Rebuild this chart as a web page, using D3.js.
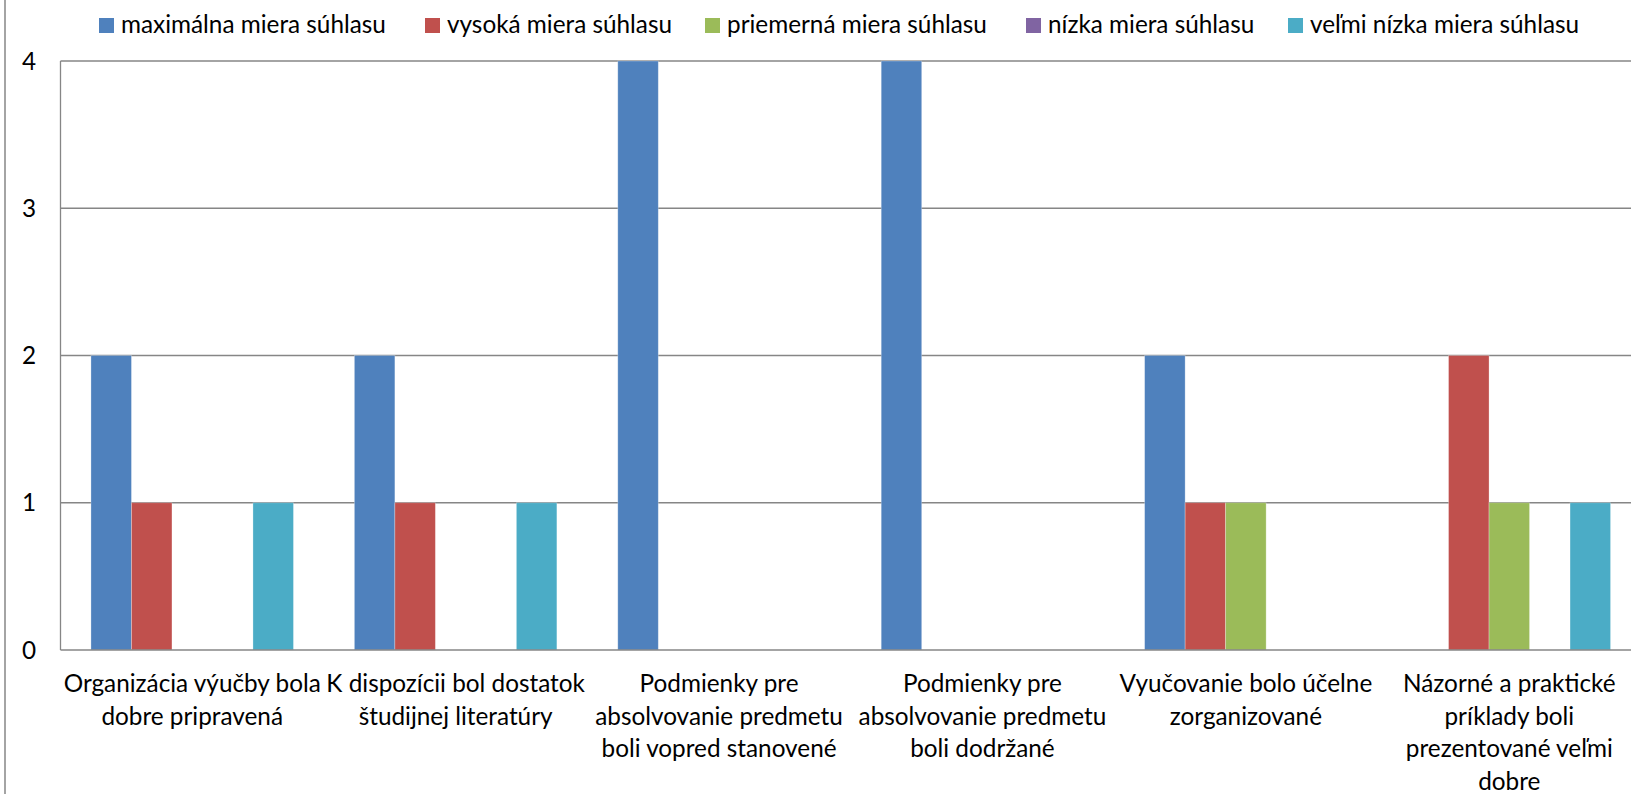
<!DOCTYPE html>
<html>
<head>
<meta charset="utf-8">
<script src="https://cdn.jsdelivr.net/npm/d3@7"></script>
<style>
  body { margin: 0; background: #fff; }
  text { font-family: Lato, "Open Sans", sans-serif; fill: #000; }
</style>
</head>
<body>
<div id="chart"></div>
<script>
// categories (line breaks as in the original)
var categories = [
    "Organizácia výučby bola\ndobre pripravená",
    "K dispozícii bol dostatok\nštudijnej literatúry",
    "Podmienky pre\nabsolvovanie predmetu\nboli vopred stanovené",
    "Podmienky pre\nabsolvovanie predmetu\nboli dodržané",
    "Vyučovanie bolo účelne\nzorganizované",
    "Názorné a praktické\npríklady boli\nprezentované veľmi\ndobre"
];
var seriesNames = ["maximálna miera súhlasu", "vysoká miera súhlasu", "priemerná miera súhlasu", "nízka miera súhlasu", "veľmi nízka miera súhlasu"];
var maximalna = [2, 2, 4, 4, 2, 0];
var vysoka    = [1, 1, 0, 0, 1, 2];
var priemerna = [0, 0, 0, 0, 1, 1];
var nizka     = [0, 0, 0, 0, 0, 0];
var velmiNizka = [1, 1, 0, 0, 0, 1];
var yTicks = [0, 1, 2, 3, 4];

var colors = ["#4F81BD", "#C0504D", "#9BBB59", "#8064A2", "#4BACC6"];
var series = [maximalna, vysoka, priemerna, nizka, velmiNizka];

var W = 1631, H = 794;
var cfg = {
    left: 60.5,
    right: 1641,      // plot area runs past the right edge of the picture
    top: 61,
    bottom: 650
};

var svg = d3.select("#chart").append("svg")
    .attr("width", W).attr("height", H);

// size the font so the first legend entry is as wide as in the original (~265px)
var probe = svg.append("text").style("font-size", "22px").text(seriesNames[0]);
var fs = 22 * 265 / probe.node().getComputedTextLength();
probe.remove();

// outer chart border (only the left side is visible)
svg.append("line")
    .attr("x1", 5).attr("x2", 5).attr("y1", 0).attr("y2", H)
    .style("stroke", "#868686").style("stroke-width", 1.5);

var x0 = d3.scaleBand().domain(d3.range(categories.length))
    .range([cfg.left, cfg.right]).paddingInner(0).paddingOuter(0);
var groupW = x0.bandwidth();
var barW = 40.5;
var gap = (groupW - barW * series.length) / 2;
var x1 = d3.scaleBand().domain(d3.range(series.length))
    .range([gap, groupW - gap]);

var y = d3.scaleLinear().domain([0, 4]).range([cfg.bottom, cfg.top]);

// gridlines
svg.append("g").selectAll("line")
    .data(yTicks.filter(function(d){ return d > 0; }))
    .enter().append("line")
    .attr("x1", cfg.left).attr("x2", W)
    .attr("y1", function(d){ return y(d); })
    .attr("y2", function(d){ return y(d); })
    .style("stroke", "#868686").style("stroke-width", 1.3);

// y axis labels
svg.append("g").selectAll("text")
    .data(yTicks)
    .enter().append("text")
    .attr("x", 36).attr("y", function(d){ return y(d); })
    .attr("dy", "0.35em")
    .attr("text-anchor", "end")
    .style("font-size", fs + "px")
    .text(function(d){ return d; });

// bars
var groups = svg.append("g").selectAll("g")
    .data(categories)
    .enter().append("g")
    .attr("transform", function(d, i){ return "translate(" + x0(i) + ",0)"; });

groups.selectAll("rect")
    .data(function(d, i){ return series.map(function(s, j){ return {s: j, v: s[i]}; }); })
    .enter().append("rect")
    .filter(function(d){ return d.v > 0; })
    .attr("x", function(d){ return x1(d.s); })
    .attr("width", x1.bandwidth())
    .attr("y", function(d){ return y(d.v); })
    .attr("height", function(d){ return y(0) - y(d.v); })
    .style("fill", function(d){ return colors[d.s]; })
    .style("stroke", "rgba(255,255,255,0.35)")
    .style("stroke-width", 0.8);

// axis lines
svg.append("line")
    .attr("x1", cfg.left).attr("x2", cfg.left).attr("y1", cfg.top).attr("y2", cfg.bottom)
    .style("stroke", "#868686").style("stroke-width", 1.3);
svg.append("line")
    .attr("x1", cfg.left).attr("x2", W).attr("y1", cfg.bottom).attr("y2", cfg.bottom)
    .style("stroke", "#868686").style("stroke-width", 1.3);

// category labels
var lab = svg.append("g").selectAll("text")
    .data(categories)
    .enter().append("text")
    .attr("text-anchor", "middle")
    .style("font-size", fs + "px");
lab.each(function(d, i){
    var t = d3.select(this);
    d.split("\n").forEach(function(line, k){
        t.append("tspan")
            .attr("x", x0(i) + groupW / 2)
            .attr("y", 692 + k * 32.5)
            .text(line);
    });
});

// legend
var legendX = [99, 425, 705, 1026, 1288];
var legend = svg.append("g").selectAll("g")
    .data(seriesNames)
    .enter().append("g")
    .attr("transform", function(d, i){ return "translate(" + legendX[i] + ",0)"; });
legend.append("rect")
    .attr("x", 0).attr("y", 18).attr("width", 15).attr("height", 15)
    .style("fill", function(d, i){ return colors[i]; });
legend.append("text")
    .attr("x", 22).attr("y", 33)
    .style("font-size", fs + "px")
    .text(function(d){ return d; });
</script>
</body>
</html>
